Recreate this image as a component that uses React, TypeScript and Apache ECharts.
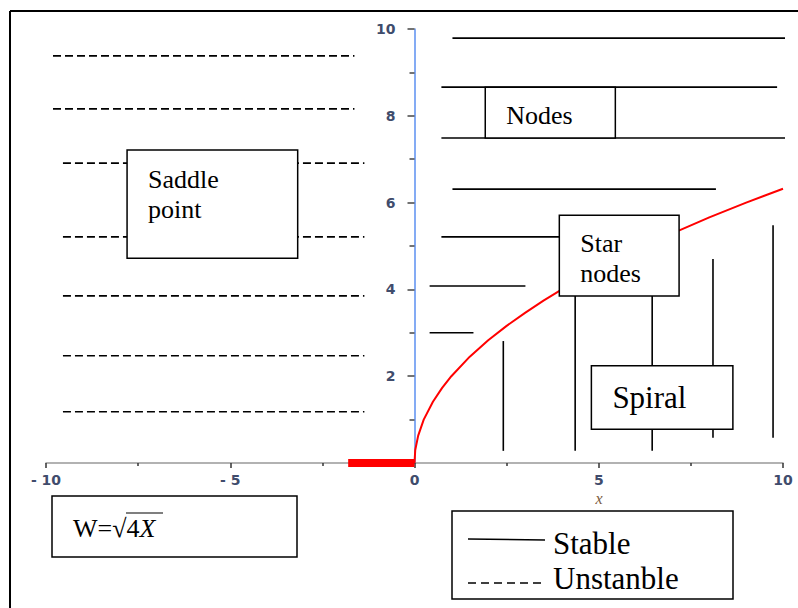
import React, { useEffect, useRef } from "react";
import * as echarts from "echarts";

// Red curve W = sqrt(4X)
const curveX = [0, 0.02, 0.1, 0.25, 0.5, 0.75, 1, 1.5, 2, 2.5, 3, 3.5, 4, 5, 6, 7, 8, 9, 10];
const curveY = [0, 0.3, 0.63, 1.0, 1.41, 1.73, 2.0, 2.45, 2.83, 3.16, 3.46, 3.74, 4.0, 4.47, 4.9, 5.29, 5.66, 6.0, 6.32];

// thick red segment on negative x axis
const negX = [-1.8, 0];
const negY = [0, 0];

// Unstable (dashed) horizontal lines
const unstableY = [9.38, 8.16, 6.91, 5.21, 3.85, 2.47, 1.18];
const unstableX0 = [-9.81, -9.81, -9.54, -9.54, -9.54, -9.54, -9.54];
const unstableX1 = [-1.63, -1.63, -1.36, -1.36, -1.36, -1.36, -1.36];

// Stable (solid) horizontal lines
const stableHY = [9.79, 8.66, 7.49, 6.31, 5.21, 4.08, 3.0];
const stableHX0 = [1.03, 0.73, 0.73, 1.03, 0.73, 0.41, 0.41];
const stableHX1 = [10.14, 9.84, 10.16, 8.18, 4.0, 3.01, 1.6];

// Stable (solid) vertical lines
const stableVX = [2.41, 4.36, 6.45, 8.1, 9.73];
const stableVY0 = [0.28, 0.28, 0.28, 0.58, 0.58];
const stableVY1 = [2.81, 3.85, 3.85, 4.7, 5.48];

// Region boxes [x1, y1, x2, y2] and their labels
const boxLabels = ["Saddle\npoint", "Nodes", "Star\nnodes", "Spiral"];
const boxCorners = [
  [-7.8, 7.21, -3.17, 4.72],
  [1.92, 8.66, 5.45, 7.49],
  [3.93, 5.71, 7.18, 3.85],
  [4.8, 2.24, 8.64, 0.78],
];

const legendLabels = ["Stable", "Unstanble"];
const formulaText = ["W=", "\u221A4", "X"];

const SERIF = '"Liberation Serif", "DejaVu Serif", serif';
const TICK_COLOR = "#404c6c";

const GRID_LEFT = 46;
const GRID_RIGHT = 15;
const WIDTH = 798;

export default function App() {
  const ref = useRef<HTMLDivElement>(null);

  useEffect(() => {
    if (!ref.current) return;
    const chart = echarts.init(ref.current, undefined, { renderer: "svg" });

    const seg = (pts: number[][], dashed: boolean) => ({
      type: "line",
      data: pts,
      symbol: "none",
      clip: false,
      silent: true,
      z: 3,
      lineStyle: {
        color: "#000",
        width: 1.6,
        type: dashed ? [8, 4] : "solid",
      },
    });

    const series: any[] = [];
    unstableY.forEach((y, i) => {
      series.push(seg([[unstableX0[i], y], [unstableX1[i], y]], true));
    });
    stableHY.forEach((y, i) => {
      series.push(seg([[stableHX0[i], y], [stableHX1[i], y]], false));
    });
    stableVX.forEach((x, i) => {
      series.push(seg([[x, stableVY0[i]], [x, stableVY1[i]]], false));
    });

    series.push({
      type: "line",
      data: curveX.map((x, i) => [x, curveY[i]]),
      symbol: "none",
      clip: false,
      z: 4,
      lineStyle: { color: "#ff0000", width: 2 },
    });
    series.push({
      type: "line",
      data: negX.map((x, i) => [x, negY[i]]),
      symbol: "none",
      clip: false,
      z: 4,
      lineStyle: { color: "#ff0000", width: 8, cap: "butt" },
    });

    const boxFont = [26, 26, 26, 31];
    const boxLH = [30, 30, 30, 36];
    const boxDy = [14, 13, 13, 14];

    series.push({
      type: "custom",
      z: 10,
      clip: false,
      data: boxCorners,
      encode: { x: [0, 2], y: [1, 3] },
      renderItem: (params: any, api: any) => {
        const i = params.dataIndex;
        const p1 = api.coord([api.value(0), api.value(1)]);
        const p2 = api.coord([api.value(2), api.value(3)]);
        return {
          type: "group",
          children: [
            {
              type: "rect",
              shape: { x: p1[0], y: p1[1], width: p2[0] - p1[0], height: p2[1] - p1[1] },
              style: { fill: "#fff", stroke: "#000", lineWidth: 1.5 },
            },
            {
              type: "text",
              x: p1[0] + 21,
              y: p1[1] + boxDy[i],
              style: {
                text: boxLabels[i],
                fill: "#000",
                font: `${boxFont[i]}px ${SERIF}`,
                lineHeight: boxLH[i],
                verticalAlign: "top",
                align: "left",
              },
            },
          ],
        };
      },
    });

    const graphic: any[] = [
      // outer frame (top and left edges)
      { type: "line", z: 100, shape: { x1: 10, y1: 11, x2: 798, y2: 11 }, style: { stroke: "#000", lineWidth: 2 } },
      { type: "line", z: 100, shape: { x1: 10, y1: 11, x2: 10, y2: 608 }, style: { stroke: "#000", lineWidth: 2 } },
      // axis name
      {
        type: "text",
        z: 100,
        x: 599,
        y: 498,
        style: {
          text: "x",
          font: `italic 16px ${SERIF}`,
          fill: "#7a5a40",
          align: "center",
          verticalAlign: "middle",
        },
      },
      // formula box
      {
        type: "rect",
        z: 100,
        shape: { x: 52, y: 496, width: 245, height: 61 },
        style: { fill: "#fff", stroke: "#000", lineWidth: 1.5 },
      },
      {
        type: "text",
        z: 101,
        x: 73,
        y: 528,
        style: {
          text: `{n|${formulaText[0]}}{n|${formulaText[1]}}{i|${formulaText[2]}}`,
          verticalAlign: "middle",
          rich: {
            n: { font: `26px ${SERIF}`, fill: "#000" },
            i: { font: `italic 26px ${SERIF}`, fill: "#000" },
          },
        },
      },
      { type: "line", z: 101, shape: { x1: 126, y1: 513, x2: 163, y2: 513 }, style: { stroke: "#000", lineWidth: 1.2 } },
      // legend box
      {
        type: "rect",
        z: 100,
        shape: { x: 452, y: 511, width: 281, height: 88 },
        style: { fill: "#fff", stroke: "#000", lineWidth: 1.5 },
      },
      { type: "line", z: 101, shape: { x1: 468, y1: 539, x2: 545, y2: 540 }, style: { stroke: "#000", lineWidth: 1.5 } },
      {
        type: "line",
        z: 101,
        shape: { x1: 468, y1: 583, x2: 545, y2: 583 },
        style: { stroke: "#000", lineWidth: 1.5, lineDash: [8, 5] },
      },
      {
        type: "text",
        z: 101,
        x: 553,
        y: 543,
        style: { text: legendLabels[0], font: `31px ${SERIF}`, fill: "#000", verticalAlign: "middle" },
      },
      {
        type: "text",
        z: 101,
        x: 553,
        y: 578,
        style: { text: legendLabels[1], font: `31px ${SERIF}`, fill: "#000", verticalAlign: "middle" },
      },
    ];

    const xMin = -10;
    const xMax = 10;
    const plotW = WIDTH - GRID_LEFT - GRID_RIGHT;
    const yAxisOffset = -((0 - xMin) / (xMax - xMin)) * plotW;

    chart.setOption({
      animation: false,
      backgroundColor: "#fff",
      grid: { left: GRID_LEFT, right: GRID_RIGHT, top: 29, bottom: 145, containLabel: false },
      xAxis: {
        type: "value",
        min: xMin,
        max: xMax,
        interval: 5,
        axisLine: { show: true, onZero: true, lineStyle: { color: "#999", width: 1.5 } },
        axisTick: { show: true, length: 5, lineStyle: { color: "#333", width: 1.5 } },
        minorTick: { show: true, splitNumber: 2, length: 3, lineStyle: { color: "#333", width: 1.5 } },
        splitLine: { show: false },
        axisLabel: {
          margin: 10,
          color: TICK_COLOR,
          fontFamily: "DejaVu Sans",
          fontWeight: "bold",
          fontSize: 14,
          formatter: (v: number) => (v < 0 ? "- " + Math.abs(v) : String(v)),
        },
      },
      yAxis: {
        type: "value",
        min: 0,
        max: 10,
        interval: 2,
        position: "left",
        offset: yAxisOffset,
        axisLine: { show: true, onZero: false, lineStyle: { color: "#5b8ff0", width: 1.5 } },
        axisTick: { show: true, length: 7, lineStyle: { color: "#444", width: 1.5 } },
        minorTick: { show: true, splitNumber: 2, length: 5, lineStyle: { color: "#444", width: 1.5 } },
        splitLine: { show: false },
        axisLabel: {
          margin: 19,
          color: TICK_COLOR,
          fontFamily: "DejaVu Sans",
          fontWeight: "bold",
          fontSize: 14,
          formatter: (v: number) => (v === 0 ? "" : String(v)),
        },
      },
      series,
      graphic,
    });

    return () => chart.dispose();
  }, []);

  return (
    <div
      ref={ref}
      style={{ position: "fixed", left: 0, top: 0, width: WIDTH, height: 608 }}
    />
  );
}
